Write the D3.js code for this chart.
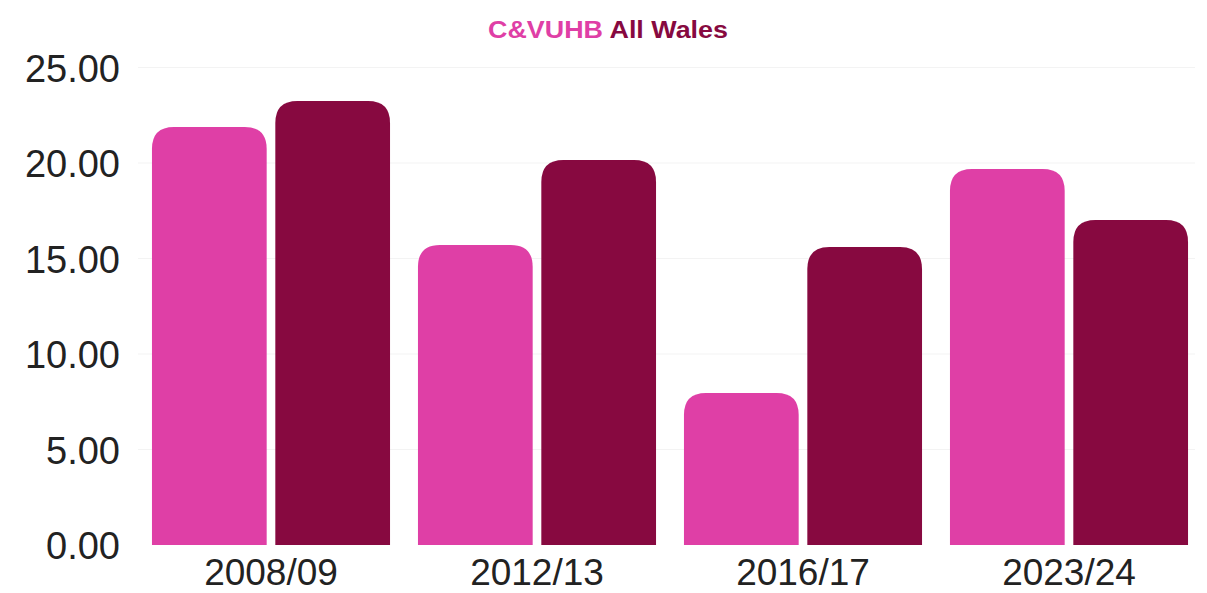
<!DOCTYPE html>
<html><head><meta charset="utf-8">
<script src="https://cdn.jsdelivr.net/npm/d3@7/dist/d3.min.js"></script>
<style>body{margin:0;background:#fff}svg{display:block}</style>
</head><body><svg id="c" width="1207" height="593"></svg>
<script>
const categories = ["2008/09","2012/13","2016/17","2023/24"];
const seriesNames = ["C&VUHB","All Wales"];
const cvuhb = [21.88, 15.71, 7.96, 19.69];
const allWales = [23.25, 20.16, 15.60, 17.02];
const yTicks = [0,5,10,15,20,25];
const colors = ["#df3fa6","#870940"];

const svg = d3.select("#c");
const x0 = d3.scaleBand().domain(categories).range([138,1202]).paddingInner(0.105).paddingOuter(0.0525);
const x1 = d3.scaleBand().domain(seriesNames).range([0,x0.bandwidth()]).paddingInner(0.07);
const y = d3.scaleLinear().domain([0,25]).range([545,67.5]);

// gridlines
svg.append("g").selectAll("line").data(yTicks.filter(d=>d>0)).join("line")
  .attr("x1",138).attr("x2",1195).attr("y1",d=>y(d)).attr("y2",d=>y(d))
  .attr("stroke","#f3f3f3").attr("stroke-width",1);

const data = categories.map((c,i)=>({c, vals:[cvuhb[i], allWales[i]]}));
const r = 22;
function barPath(x,w,yt,yb){
  const rr = Math.min(r, w/2, yb-yt);
  return `M${x},${yb}V${yt+rr}Q${x},${yt} ${x+rr},${yt}H${x+w-rr}Q${x+w},${yt} ${x+w},${yt+rr}V${yb}Z`;
}
const g = svg.append("g");
data.forEach(d=>{
  d.vals.forEach((v,j)=>{
    const bx = x0(d.c)+x1(seriesNames[j]);
    g.append("path").attr("d", barPath(bx, x1.bandwidth(), y(v), y(0))).attr("fill", colors[j]);
  });
});

// y axis
const yAxis = d3.axisLeft(y).tickValues(yTicks).tickFormat(d3.format(".2f")).tickSize(0).tickPadding(0);
const ya = svg.append("g").attr("transform","translate(120,0)").call(yAxis);
ya.select(".domain").remove();
ya.selectAll("text").attr("font-family","Liberation Sans, Arial, sans-serif").attr("font-size",38).attr("fill","#222").attr("dy","0.36em");

// x axis
const xAxis = d3.axisBottom(x0).tickSize(0).tickPadding(0);
const xa = svg.append("g").attr("transform","translate(0,552)").call(xAxis);
xa.select(".domain").remove();
xa.selectAll("text").attr("font-family","Liberation Sans, Arial, sans-serif").attr("font-size",37).attr("fill","#222").attr("dy","0.9em");

// legend title
const t = svg.append("text").attr("x",608).attr("y",38).attr("text-anchor","middle")
  .attr("font-family","Liberation Sans, Arial, sans-serif").attr("font-weight","bold").attr("font-size",23)
  .attr("textLength",240).attr("lengthAdjust","spacingAndGlyphs");
t.append("tspan").text(seriesNames[0]).attr("fill",colors[0]);
t.append("tspan").text(" "+seriesNames[1]).attr("fill",colors[1]);
</script></body></html>
